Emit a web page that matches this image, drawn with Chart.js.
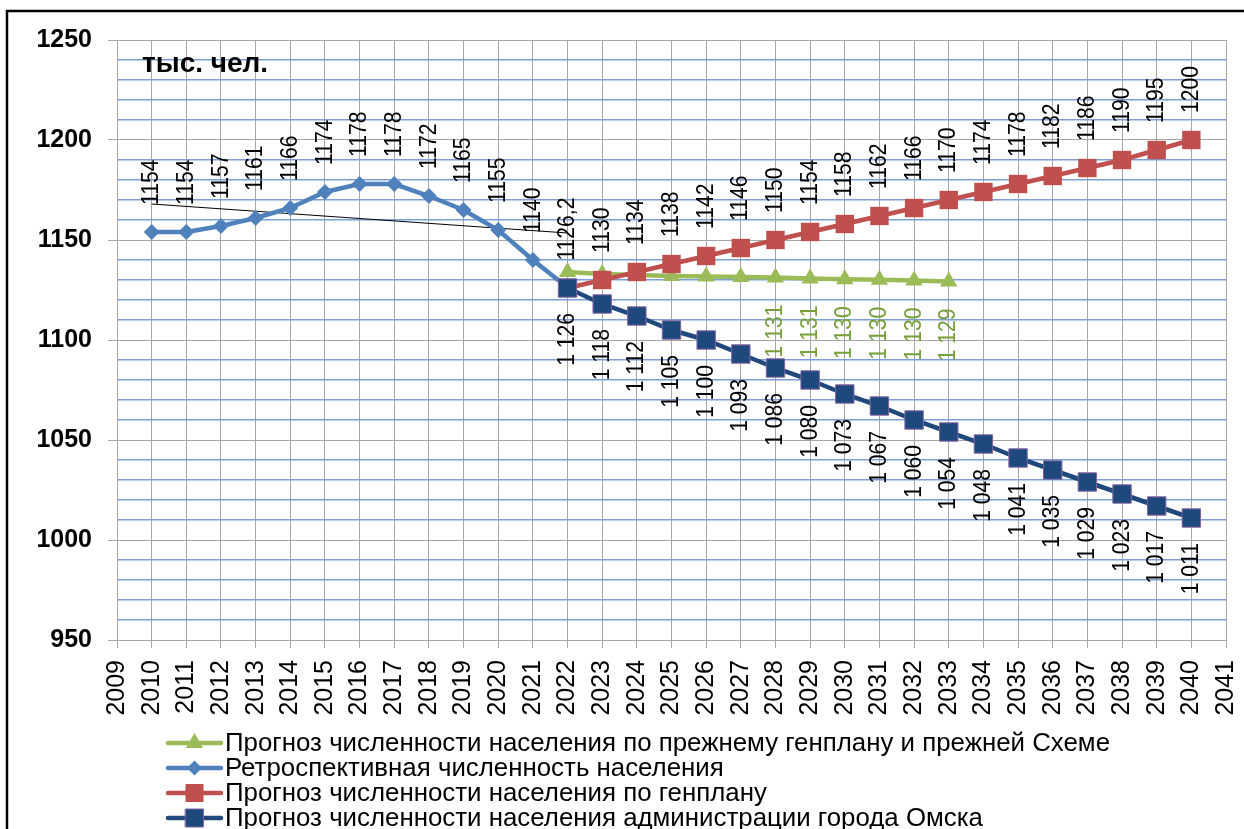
<!DOCTYPE html>
<html>
<head>
<meta charset="utf-8">
<script src="https://cdn.jsdelivr.net/npm/chart.js@4.4.1/dist/chart.umd.min.js"></script>
<style>
  html, body { margin: 0; padding: 0; background: #fff; overflow: hidden; }
  #wrap { width: 1244px; height: 829px; position: relative; }
</style>
</head>
<body>
<div id="wrap"><canvas id="c" width="1244" height="829"></canvas></div>
<script>
// ---------- DATA ----------
const retroYears   = [2010, 2011, 2012, 2013, 2014, 2015, 2016, 2017, 2018, 2019, 2020, 2021, 2022];
const retroValues  = [1154, 1154, 1157, 1161, 1166, 1174, 1178, 1178, 1172, 1165, 1155, 1140, 1126.2];

const genplanYears  = [2022, 2023, 2024, 2025, 2026, 2027, 2028, 2029, 2030, 2031, 2032, 2033, 2034, 2035, 2036, 2037, 2038, 2039, 2040];
const genplanValues = [1126, 1130, 1134, 1138, 1142, 1146, 1150, 1154, 1158, 1162, 1166, 1170, 1174, 1178, 1182, 1186, 1190, 1195, 1200];

const adminYears  = [2022, 2023, 2024, 2025, 2026, 2027, 2028, 2029, 2030, 2031, 2032, 2033, 2034, 2035, 2036, 2037, 2038, 2039, 2040];
const adminValues = [1126, 1118, 1112, 1105, 1100, 1093, 1086, 1080, 1073, 1067, 1060, 1054, 1048, 1041, 1035, 1029, 1023, 1017, 1011];

const oldYears  = [2022, 2023, 2024, 2025, 2026, 2027, 2028, 2029, 2030, 2031, 2032, 2033];
const oldValues = [1134, 1133, 1132.5, 1132, 1131.8, 1131.5, 1131.2, 1130.8, 1130.4, 1130.1, 1129.7, 1129.3];
const oldLabelFrom = 2028;

const trendYears  = [2010, 2022];
const trendValues = [1168, 1153.5];

const xMin = 2009, xMax = 2041;
const yMin = 950, yMax = 1250, yMajor = 50, yMinor = 10;

const seriesNames = {
  old: 'Прогноз численности населения по прежнему генплану и прежней Схеме',
  retro: 'Ретроспективная численность населения',
  genplan: 'Прогноз численности населения по генплану',
  admin: 'Прогноз численности населения администрации города Омска'
};
const unitText = 'тыс. чел.';

// ---------- helpers ----------
const FONT = '"Liberation Sans", Arial, "DejaVu Sans", sans-serif';
const toPts = (xs, ys) => xs.map((x, i) => ({ x: x, y: ys[i] }));
const spaced = v => { const s = String(Math.round(v)); return s.length > 3 ? s.slice(0, s.length - 3) + ' ' + s.slice(-3) : s; };
const comma = v => String(v).replace('.', ',');

const C_OLD = '#9BBB59', C_RETRO = '#4F81BD', C_GEN = '#C0504D', C_ADM = '#1F497D';

// ---------- plugins ----------
const bgPlugin = {
  id: 'bgFrame',
  beforeDraw(chart) {
    const ctx = chart.ctx;
    ctx.save();
    ctx.fillStyle = '#fff';
    ctx.fillRect(0, 0, chart.width, chart.height);
    ctx.strokeStyle = '#000';
    ctx.lineWidth = 2.5;
    ctx.strokeRect(7, 11, chart.width + 20, chart.height + 20);
    ctx.restore();
  }
};

const labelPlugin = {
  id: 'pointLabels',
  afterDatasetsDraw(chart) {
    const ctx = chart.ctx;
    chart.data.datasets.forEach((ds, i) => {
      const lab = ds.pointLabels;
      if (!lab) return;
      const meta = chart.getDatasetMeta(i);
      meta.data.forEach((pt, j) => {
        const raw = ds.data[j];
        if (lab.from && raw.x < lab.from) return;
        if (lab.skip && lab.skip.includes(raw.x)) return;
        const text = lab.fmt(raw.y);
        ctx.save();
        ctx.translate(pt.x, pt.y + (lab.above ? -lab.gap : lab.gap));
        ctx.rotate(-Math.PI / 2);
        ctx.scale(0.88, 1);
        ctx.font = '24px ' + FONT;
        ctx.fillStyle = lab.color;
        ctx.textAlign = lab.above ? 'left' : 'right';
        ctx.textBaseline = 'middle';
        ctx.fillText(text, 0, 0);
        ctx.restore();
      });
    });
  }
};

function drawMarker(ctx, style, x, y, r, fill, stroke) {
  ctx.beginPath();
  if (style === 'triangle') {
    ctx.moveTo(x, y - r);
    ctx.lineTo(x + r * Math.sin(Math.PI / 3), y + r / 2);
    ctx.lineTo(x - r * Math.sin(Math.PI / 3), y + r / 2);
    ctx.closePath();
  } else if (style === 'rectRot') {
    ctx.moveTo(x, y - r); ctx.lineTo(x + r, y); ctx.lineTo(x, y + r); ctx.lineTo(x - r, y);
    ctx.closePath();
  } else {
    ctx.rect(x - r, y - r, 2 * r, 2 * r);
  }
  ctx.fillStyle = fill;
  ctx.fill();
  if (stroke) { ctx.lineWidth = 1; ctx.strokeStyle = stroke; ctx.stroke(); }
}

const legendPlugin = {
  id: 'customLegend',
  afterDraw(chart) {
    const ctx = chart.ctx;
    const items = [
      { name: seriesNames.old, color: C_OLD, style: 'triangle', r: 10 },
      { name: seriesNames.retro, color: C_RETRO, style: 'rectRot', r: 7.5 },
      { name: seriesNames.genplan, color: C_GEN, style: 'rect', r: 9 },
      { name: seriesNames.admin, color: C_ADM, style: 'rect', r: 9, stroke: '#8064A2' }
    ];
    ctx.save();
    ctx.font = '26px ' + FONT;
    const w0 = ctx.measureText(items[0].name).width;
    const sx = 885 / w0;
    items.forEach((it, k) => {
      const y = 743 + 25 * k;
      ctx.strokeStyle = it.color;
      ctx.lineWidth = 4.5;
      ctx.lineCap = 'round';
      ctx.beginPath(); ctx.moveTo(168, y); ctx.lineTo(221, y); ctx.stroke();
      drawMarker(ctx, it.style, 194.5, y, it.r, it.color, it.stroke);
      ctx.save();
      ctx.translate(225, y);
      ctx.scale(sx, 1);
      ctx.fillStyle = '#000';
      ctx.textAlign = 'left';
      ctx.textBaseline = 'middle';
      ctx.font = '26px ' + FONT;
      ctx.fillText(it.name, 0, 1);
      ctx.restore();
    });
    // unit text
    ctx.font = 'bold 28px ' + FONT;
    ctx.fillStyle = '#000';
    ctx.textAlign = 'left';
    ctx.textBaseline = 'middle';
    ctx.fillText(unitText, 142, 64);
    ctx.restore();
  }
};

// ---------- chart ----------
const ctx = document.getElementById('c').getContext('2d');
new Chart(ctx, {
  type: 'line',
  data: {
    datasets: [
      {
        label: seriesNames.admin,
        data: toPts(adminYears, adminValues),
        borderColor: C_ADM, backgroundColor: C_ADM,
        borderWidth: 4.5,
        pointStyle: 'rect', pointRadius: 13, pointBorderColor: '#8064A2', pointBorderWidth: 1,
        pointBackgroundColor: C_ADM,
        order: 0,
        pointLabels: { above: false, gap: 25, color: '#000', fmt: spaced }
      },
      {
        label: seriesNames.genplan,
        data: toPts(genplanYears, genplanValues),
        borderColor: C_GEN, backgroundColor: C_GEN,
        borderWidth: 4.5,
        pointStyle: 'rect', pointRadius: 13, pointBorderWidth: 0,
        order: 1,
        pointLabels: { above: true, gap: 27, color: '#000', fmt: v => String(Math.round(v)), skip: [2022] }
      },
      {
        label: seriesNames.old,
        data: toPts(oldYears, oldValues),
        borderColor: C_OLD, backgroundColor: C_OLD,
        borderWidth: 4.5,
        pointStyle: 'triangle', pointRadius: 10, pointBorderWidth: 0,
        order: 2,
        pointLabels: { above: false, gap: 27, color: '#77A03C', fmt: spaced, from: oldLabelFrom }
      },
      {
        label: seriesNames.retro,
        data: toPts(retroYears, retroValues),
        borderColor: C_RETRO, backgroundColor: C_RETRO,
        borderWidth: 4.5,
        pointStyle: 'rectRot', pointRadius: 8, pointBorderWidth: 0,
        order: 3,
        pointLabels: { above: true, gap: 27, color: '#000', fmt: comma }
      },
      {
        label: 'trend',
        data: toPts(trendYears, trendValues),
        borderColor: '#000', borderWidth: 1,
        pointRadius: 0,
        order: 4
      }
    ]
  },
  options: {
    responsive: false,
    animation: false,
    events: [],
    layout: { padding: { top: 40, right: 18, left: 0, bottom: 0 } },
    plugins: { legend: { display: false }, tooltip: { enabled: false } },
    scales: {
      x: {
        type: 'linear',
        min: xMin, max: xMax,
        afterFit: s => { s.height = 189; s.paddingLeft = 0; s.paddingRight = 0; },
        ticks: {
          stepSize: 1, autoSkip: false, maxTicksLimit: 100,
          maxRotation: 90, minRotation: 90,
          padding: 12,
          color: '#000',
          font: { family: FONT, size: 25 },
          callback: v => String(v)
        },
        grid: { color: '#A6A6A6', lineWidth: 1, tickLength: 8, tickColor: '#A6A6A6' },
        border: { color: '#A6A6A6' }
      },
      y: {
        min: yMin, max: yMax,
        afterFit: s => { s.width = 117; s.paddingTop = 0; s.paddingBottom = 0; },
        ticks: {
          stepSize: yMinor, autoSkip: false, maxTicksLimit: 100,
          padding: 16,
          color: '#000',
          font: { family: FONT, size: 25, weight: 'bold' },
          callback: v => (v % yMajor === 0 ? String(v) : '')
        },
        grid: {
          color: c => (c.tick && c.tick.value % yMajor === 0 ? '#A6A6A6' : '#7B9ED6'),
          lineWidth: c => (c.tick && c.tick.value % yMajor === 0 ? 1 : 1.5),
          tickLength: 9,
          tickColor: c => (c.tick && c.tick.value % yMajor === 0 ? '#A6A6A6' : 'rgba(0,0,0,0)')
        },
        border: { color: '#A6A6A6' }
      }
    }
  },
  plugins: [bgPlugin, labelPlugin, legendPlugin]
});
</script>
</body>
</html>
